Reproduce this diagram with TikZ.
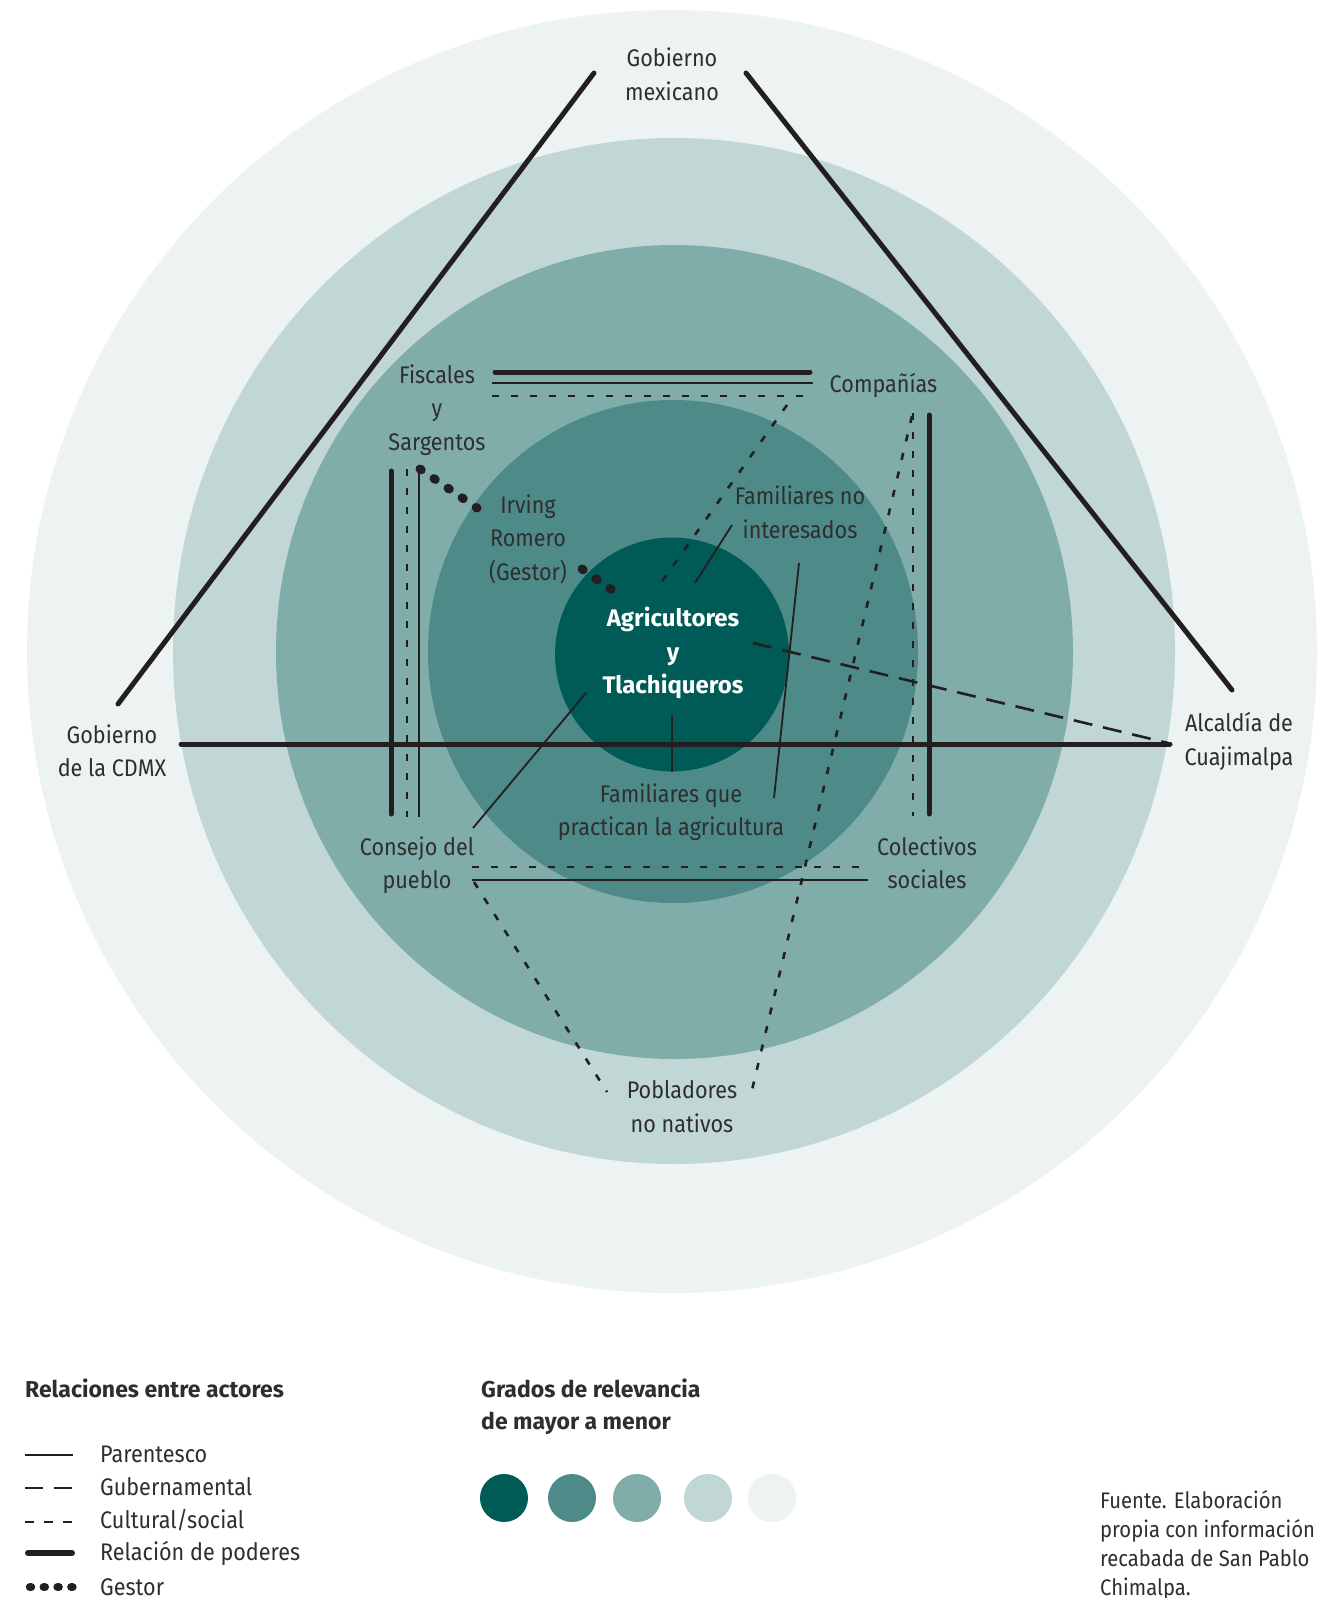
\documentclass[tikz,border=0pt]{standalone}
\usepackage{fontspec}
\setmainfont{Fira Sans}[FakeStretch=0.9]
\newfontfamily\boldfam{Fira Sans}[FakeStretch=1.0]
\definecolor{cE}{HTML}{EDF3F3}
\definecolor{cD}{HTML}{C0D7D5}
\definecolor{cC}{HTML}{80ACAA}
\definecolor{cB}{HTML}{4E8B88}
\definecolor{cA}{HTML}{005A55}
\definecolor{inkc}{HTML}{231F20}
\definecolor{txtc}{HTML}{2E2E2E}
\begin{document}
\begin{tikzpicture}[x=1pt,y=-1pt,
  rel/.style={draw=inkc,line width=5pt,line cap=round},
  par/.style={draw=inkc,line width=1.8pt},
  gub/.style={draw=inkc,line width=2.6pt,dash pattern=on 19pt off 11pt},
  cul/.style={draw=inkc,line width=2.6pt,dash pattern=on 7pt off 12pt},
  ges/.style={draw=inkc,line width=9pt,line cap=round,dash pattern=on 1.5pt off 15.5pt},
  lbl/.style={align=center,text=txtc,inner sep=0pt,font=\fontsize{24}{33.5}\selectfont},
  lgd/.style={anchor=base west,align=left,text=txtc,inner sep=0pt,font=\fontsize{24}{33}\selectfont},
  dot/.style={circle,inner sep=0pt,minimum size=48pt}
]
\useasboundingbox (0,0) rectangle (1328,1598);
\fill[white] (0,0) rectangle (1328,1598);
% relevance rings
\fill[cE] (672,651.5) ellipse [x radius=645pt, y radius=641.5pt];
\fill[cD] (674,651) ellipse [x radius=501pt, y radius=513pt];
\fill[cC] (674.5,652) ellipse [x radius=398.5pt, y radius=407pt];
\fill[cB] (673,651.5) ellipse [x radius=245pt, y radius=251.5pt];
\fill[cA] (672,654.5) circle [radius=117pt];

% labels
\node[lbl] (gmex) at (672,74.5) {Gobierno\\mexicano};
\node[lbl] (gcdmx) at (112,751) {Gobierno\\de la CDMX};
\node[lbl] (alc) at (1239,741.5) {Alcaldía de\\Cuajimalpa};
\node[lbl] (fis) at (437,410) {Fiscales\\y\\Sargentos};
\node[lbl] (comp) at (883.5,385) {Compañías};
\node[lbl] (irv) at (528,539) {Irving\\Romero\\(Gestor)};
\node[lbl] (fni) at (800,512.5) {Familiares no\\interesados};
\node[lbl,text=white,font=\fontsize{24}{33.5}\selectfont\boldfam\bfseries] (agr) at (673,653) {Agricultores\\y\\Tlachiqueros};
\node[lbl] (fqp) at (671,812) {Familiares que\\practican la agricultura};
\node[lbl] (cons) at (417,865) {Consejo del\\pueblo};
\node[lbl] (col) at (927,863) {Colectivos\\sociales};
\node[lbl] (pob) at (682,1106.5) {Pobladores\\no nativos};

% connector end points
\coordinate (tL1) at (594,73);
\coordinate (tL2) at (118,704);
\coordinate (tR1) at (746,73);
\coordinate (tR2) at (1232,690);
\coordinate (hL) at (181,744);
\coordinate (hR) at (1170,744);
\coordinate (vLa) at (391,471);
\coordinate (vLb) at (391,814);
\coordinate (vLda) at (407,469);
\coordinate (vLdb) at (407,817);
\coordinate (vLta) at (419,470);
\coordinate (vLtb) at (419,817);
\coordinate (vRa) at (929,415);
\coordinate (vRb) at (929,814);
\coordinate (vRda) at (913,413);
\coordinate (vRdb) at (913,816);
\coordinate (topTa) at (495,372);
\coordinate (topTb) at (810,372);
\coordinate (topPa) at (492,383);
\coordinate (topPb) at (813,383);
\coordinate (topCa) at (492,396);
\coordinate (topCb) at (813,396);
\coordinate (botCa) at (472,867);
\coordinate (botCb) at (868,867);
\coordinate (botPa) at (472,880);
\coordinate (botPb) at (868,880);
\coordinate (gs1a) at (420,469);
\coordinate (gs1b) at (477,508);
\coordinate (gs2a) at (582,569);
\coordinate (gs2b) at (612,590);
\coordinate (cmpA) at (787,405);
\coordinate (cmpB) at (658,587);
\coordinate (fniA) at (732,525);
\coordinate (fniB) at (695,583);
\coordinate (fnqA) at (799,563);
\coordinate (fnqB) at (774,798);
\coordinate (alcA) at (753,643);
\coordinate (alcB) at (1168,743);
\coordinate (fqpA) at (672,716);
\coordinate (fqpB) at (672,772);
\coordinate (conA) at (586,693);
\coordinate (conB) at (473,828);
\coordinate (pobLA) at (474,882);
\coordinate (pobLB) at (607,1092);
\coordinate (pobRA) at (912,416);
\coordinate (pobRB) at (752,1090);

% relations
\draw[rel] (tL1) -- (tL2);
\draw[rel] (tR1) -- (tR2);
\draw[rel] (hL) -- (hR);
\draw[rel] (vLa) -- (vLb);
\draw[cul] (vLda) -- (vLdb);
\draw[par] (vLta) -- (vLtb);
\draw[rel] (vRa) -- (vRb);
\draw[cul] (vRda) -- (vRdb);
\draw[rel] (topTa) -- (topTb);
\draw[par] (topPa) -- (topPb);
\draw[cul] (topCa) -- (topCb);
\draw[cul] (botCa) -- (botCb);
\draw[par] (botPa) -- (botPb);
\draw[ges] (gs1a) -- (gs1b);
\draw[ges] (gs2a) -- (gs2b);
\draw[cul] (cmpA) -- (cmpB);
\draw[par] (fniA) -- (fniB);
\draw[par] (fnqA) -- (fnqB);
\draw[gub] (alcA) -- (alcB);
\draw[par] (fqpA) -- (fqpB);
\draw[par] (conA) -- (conB);
\draw[cul] (pobLA) -- (pobLB);
\draw[cul] (pobRA) -- (pobRB);

% legend
\node[lgd,font=\fontsize{23}{33}\selectfont\boldfam\bfseries] (lt1) at (25,1397) {Relaciones entre actores};
\node[lgd] (l1) at (100,1462) {Parentesco};
\node[lgd] (l2) at (100,1495) {Gubernamental};
\node[lgd] (l3) at (100,1528) {Cultural/social};
\node[lgd] (l4) at (100,1560) {Relación de poderes};
\node[lgd] (l5) at (100,1595) {Gestor};
\coordinate (s1a) at (25,1455); \coordinate (s1b) at (73,1455);
\coordinate (s2a) at (25,1488); \coordinate (s2b) at (73,1488);
\coordinate (s3a) at (25,1522); \coordinate (s3b) at (73,1522);
\coordinate (s4a) at (28,1553); \coordinate (s4b) at (72,1553);
\coordinate (s5a) at (30,1587); \coordinate (s5b) at (75,1587);
\draw[par] (s1a) -- (s1b);
\draw[gub,dash pattern=on 18pt off 11pt] (s2a) -- (s2b);
\draw[cul,dash pattern=on 9pt off 10pt] (s3a) -- (s3b);
\draw[rel,line width=6pt] (s4a) -- (s4b);
\draw[ges,line width=8.5pt,dash pattern=on 1pt off 12.8pt] (s5a) -- (s5b);

\node[lgd,font=\fontsize{23}{32}\selectfont\boldfam\bfseries] (lt2) at (481,1429) {Grados de relevancia\\de mayor a menor};
\node[dot,fill=cA] (d1) at (504,1498) {};
\node[dot,fill=cB] (d2) at (572,1498) {};
\node[dot,fill=cC] (d3) at (637,1498) {};
\node[dot,fill=cD] (d4) at (708,1498) {};
\node[dot,fill=cE] (d5) at (772,1498) {};

\node[lgd,font=\fontsize{22.5}{29}\selectfont] (src) at (1100,1595) {Fuente. Elaboración\\propia con información\\recabada de San Pablo\\Chimalpa.};
\end{tikzpicture}
\end{document}
